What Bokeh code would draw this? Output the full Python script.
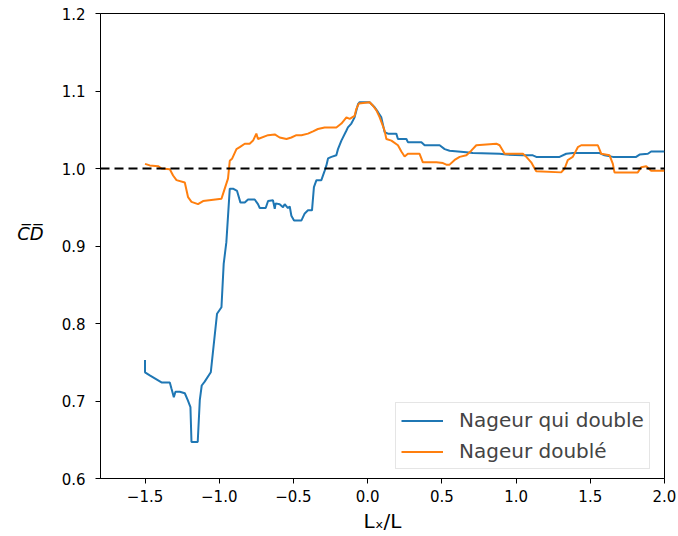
from bokeh.plotting import figure
from bokeh.models import (Range1d, FixedTicker, CustomJSTickFormatter, Span,
                          Legend, LegendItem)
from bokeh.embed import file_html
from bokeh.resources import INLINE

# ---- data ----
blue_x = [-1.50, -1.50, -1.468, -1.389, -1.333, -1.322, -1.306, -1.295, -1.266, -1.232,
          -1.212, -1.194, -1.187, -1.145, -1.131, -1.118, -1.098, -1.057, -1.015, -0.985,
          -0.970, -0.952, -0.929, -0.907, -0.880, -0.857, -0.828, -0.806, -0.761, -0.739,
          -0.727, -0.687, -0.671, -0.638, -0.626, -0.620, -0.593, -0.570, -0.559, -0.537,
          -0.525, -0.514, -0.496, -0.446, -0.424, -0.402, -0.375, -0.362, -0.345, -0.312,
          -0.290, -0.278, -0.267, -0.244, -0.211, -0.200, -0.177, -0.143, -0.133, -0.110,
          -0.088, -0.065, -0.054, 0.013, 0.047, 0.069, 0.092, 0.114, 0.137, 0.193,
          0.204, 0.261, 0.271, 0.362, 0.384, 0.485, 0.519, 0.552, 0.665, 0.709,
          0.889, 0.934, 1.046, 1.113, 1.136, 1.293, 1.338, 1.382, 1.562, 1.596,
          1.652, 1.809, 1.832, 1.888, 1.910, 2.000]
blue_y = [0.753, 0.737, 0.733, 0.724, 0.724, 0.716, 0.705, 0.712, 0.712, 0.710,
          0.701, 0.692, 0.647, 0.647, 0.701, 0.720, 0.725, 0.737, 0.8125, 0.821,
          0.877, 0.905, 0.974, 0.974, 0.971, 0.956, 0.956, 0.960, 0.960, 0.954,
          0.949, 0.949, 0.958, 0.959, 0.948, 0.955, 0.954, 0.950, 0.954, 0.949,
          0.951, 0.939, 0.933, 0.933, 0.942, 0.946, 0.946, 0.976, 0.985, 0.985,
          0.997, 1.004, 1.013, 1.015, 1.017, 1.025, 1.036, 1.049, 1.053, 1.058,
          1.066, 1.083, 1.0855, 1.0855, 1.079, 1.073, 1.066, 1.047, 1.045, 1.045,
          1.038, 1.038, 1.034, 1.034, 1.030, 1.030, 1.025, 1.023, 1.021, 1.020,
          1.019, 1.018, 1.017, 1.017, 1.015, 1.015, 1.019, 1.020, 1.020, 1.017,
          1.015, 1.015, 1.018, 1.019, 1.022, 1.022]

orange_x = [-1.50, -1.468, -1.412, -1.389, -1.333, -1.311, -1.288, -1.232, -1.210, -1.187,
            -1.143, -1.109, -0.985, -0.963, -0.941, -0.929, -0.914, -0.884, -0.862, -0.828,
            -0.795, -0.772, -0.750, -0.739, -0.671, -0.626, -0.593, -0.547, -0.514, -0.480,
            -0.446, -0.402, -0.368, -0.335, -0.290, -0.211, -0.177, -0.143, -0.121, -0.088,
            -0.076, -0.059, 0.013, 0.036, 0.059, 0.081, 0.114, 0.126, 0.160, 0.204,
            0.227, 0.249, 0.271, 0.350, 0.372, 0.463, 0.507, 0.530, 0.552, 0.586,
            0.620, 0.665, 0.698, 0.732, 0.867, 0.889, 0.923, 1.046, 1.069, 1.102,
            1.125, 1.136, 1.304, 1.327, 1.349, 1.382, 1.416, 1.439, 1.551, 1.574,
            1.630, 1.652, 1.663, 1.820, 1.843, 1.877, 1.910, 2.000]
orange_y = [1.006, 1.004, 1.003, 1.000, 0.999, 0.991, 0.985, 0.982, 0.963, 0.957,
            0.954, 0.958, 0.961, 0.974, 0.987, 1.010, 1.0125, 1.025, 1.0275, 1.032,
            1.032, 1.036, 1.045, 1.038, 1.043, 1.044, 1.040, 1.038, 1.040, 1.043,
            1.043, 1.045, 1.048, 1.051, 1.053, 1.053, 1.058, 1.066, 1.064, 1.068,
            1.077, 1.084, 1.0855, 1.081, 1.075, 1.066, 1.049, 1.038, 1.036, 1.030,
            1.022, 1.0155, 1.019, 1.019, 1.008, 1.008, 1.007, 1.005, 1.005, 1.011,
            1.015, 1.017, 1.023, 1.030, 1.032, 1.030, 1.019, 1.019, 1.015, 1.008,
            1.000, 0.9965, 0.995, 1.000, 1.011, 1.015, 1.0275, 1.030, 1.030, 1.019,
            1.017, 1.006, 0.995, 0.995, 1.0017, 1.003, 0.997, 0.997]

x_ticks = [-1.5, -1.0, -0.5, 0.0, 0.5, 1.0, 1.5, 2.0]
y_ticks = [0.6, 0.7, 0.8, 0.9, 1.0, 1.1, 1.2]
reference_level = 1.0
series_names = ["Nageur qui double", "Nageur doublé"]
series_colors = ["#1f77b4", "#ff7f0e"]
x_label = "Lₓ/L"
y_label = "C\u0305D\u0305\n "

FONT = "DejaVu Sans"

p = figure(width=678, height=536,
           x_range=Range1d(-1.8, 2.0), y_range=Range1d(0.6, 1.2),
           output_backend="svg", toolbar_location=None,
           min_border_left=100, min_border_right=14, min_border_top=13, min_border_bottom=58)

p.xgrid.visible = False
p.ygrid.visible = False
p.outline_line_color = "black"
p.outline_line_alpha = 1
p.outline_line_width = 1
p.background_fill_color = "white"

fmt = CustomJSTickFormatter(code="return tick.toFixed(1).replace('-', '\u2212');")
for ax, ticks, standoff in ((p.xaxis[0], x_ticks, 6), (p.yaxis[0], y_ticks, 10)):
    ax.ticker = FixedTicker(ticks=ticks)
    ax.formatter = fmt
    ax.axis_line_color = "black"
    ax.major_tick_line_color = "black"
    ax.major_tick_out = 5
    ax.major_tick_in = 0
    ax.minor_tick_out = 0
    ax.minor_tick_in = 0
    ax.major_label_text_font = FONT
    ax.major_label_text_font_size = "15px"
    ax.major_label_text_color = "black"
    ax.major_label_standoff = standoff
    ax.axis_label_text_font = FONT
    ax.axis_label_text_font_style = "normal"
    ax.axis_label_text_color = "black"

p.xaxis.axis_label = x_label
p.xaxis.axis_label_text_font_size = "20px"
p.xaxis.axis_label_standoff = 4

p.yaxis.axis_label = y_label
p.yaxis.axis_label_text_font_size = "18px"
p.yaxis.axis_label_text_font_style = "italic"
p.yaxis.axis_label_orientation = "horizontal"
p.yaxis.axis_label_standoff = 15

r1 = p.line(blue_x, blue_y, line_color=series_colors[0], line_width=2)
r2 = p.line(orange_x, orange_y, line_color=series_colors[1], line_width=2)

p.add_layout(Span(location=reference_level, dimension="width", line_color="black",
                  line_dash="9 5", line_width=2))

legend = Legend(items=[LegendItem(label=series_names[0], renderers=[r1]),
                       LegendItem(label=series_names[1], renderers=[r2])],
                location=(295, 9), label_text_font=FONT, label_text_font_size="20px",
                glyph_width=42, glyph_height=23, label_height=23, label_standoff=16,
                padding=5, spacing=7, margin=0, border_line_color="#cccccc",
                background_fill_alpha=0.8)
p.add_layout(legend)

open("out.html", "w").write(file_html(p, INLINE))
